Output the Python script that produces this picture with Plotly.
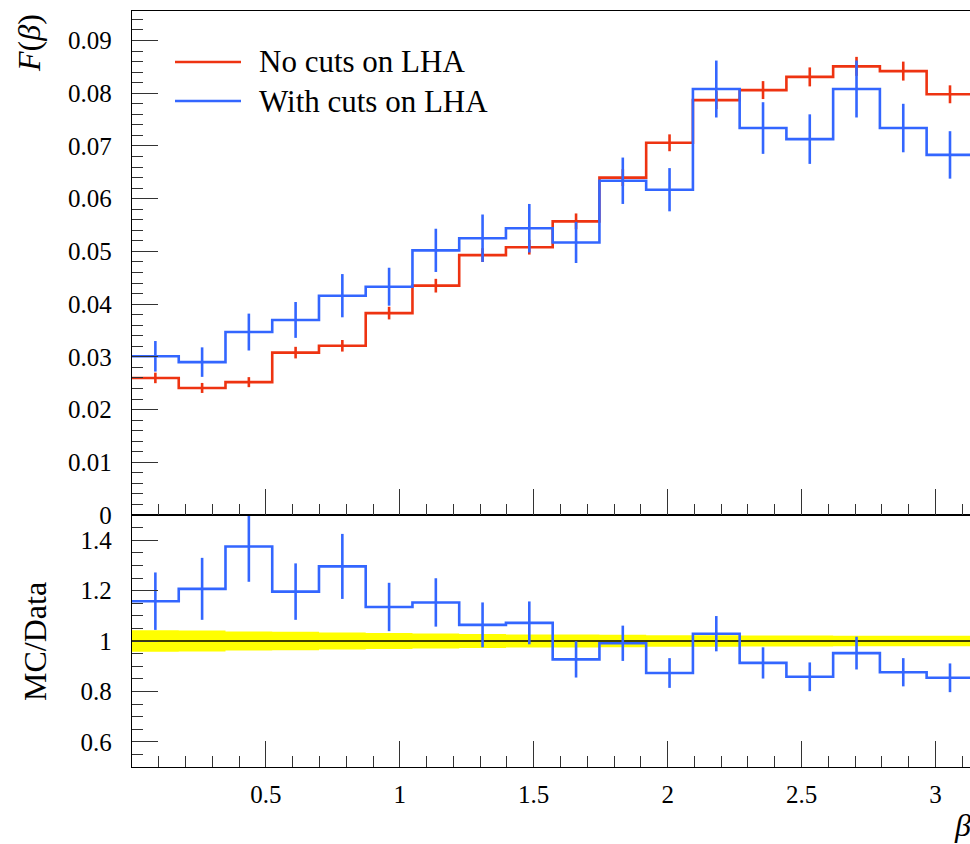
import numpy as np
import plotly.graph_objects as go

# ---------------- data ----------------
n_bins = 18
beta_max = np.pi
bin_edges = np.linspace(0.0, beta_max, n_bins + 1)
bin_centres = 0.5 * (bin_edges[:-1] + bin_edges[1:])

no_cuts = [0.0260, 0.0241, 0.0252, 0.0308, 0.0321, 0.0383, 0.0435, 0.0493, 0.0508,
           0.0557, 0.0640, 0.0706, 0.0787, 0.0806, 0.0831, 0.0851, 0.0842, 0.0798]
no_cuts_err = [0.0010, 0.00095, 0.00095, 0.0011, 0.0011, 0.0012, 0.0013, 0.0013, 0.0014,
               0.0015, 0.0016, 0.0016, 0.0017, 0.0017, 0.0018, 0.0018, 0.0018, 0.0017]
with_cuts = [0.0301, 0.0290, 0.0347, 0.0370, 0.0416, 0.0433, 0.0502, 0.0525, 0.0544,
             0.0517, 0.0634, 0.0617, 0.0808, 0.0734, 0.0713, 0.0808, 0.0734, 0.0683]
with_cuts_err = [0.0029, 0.0028, 0.0035, 0.0034, 0.0041, 0.0036, 0.0041, 0.0045, 0.0046,
                 0.0039, 0.0044, 0.0041, 0.0054, 0.0049, 0.0047, 0.0054, 0.0046, 0.0045]
ratio = [1.158, 1.207, 1.375, 1.196, 1.296, 1.135, 1.153, 1.064, 1.072,
         0.927, 0.991, 0.873, 1.029, 0.913, 0.858, 0.952, 0.876, 0.854]
ratio_err = [0.114, 0.123, 0.140, 0.112, 0.129, 0.096, 0.096, 0.089, 0.085,
             0.072, 0.070, 0.059, 0.070, 0.062, 0.057, 0.065, 0.056, 0.057]
band_half = [0.043, 0.042, 0.038, 0.037, 0.034, 0.032, 0.030, 0.028, 0.026,
             0.026, 0.025, 0.023, 0.023, 0.022, 0.022, 0.021, 0.021, 0.021]

series_names = ["No cuts on LHA", "With cuts on LHA"]

x_major = [0.5, 1, 1.5, 2, 2.5, 3]
x_major_text = ["0.5", "1", "1.5", "2", "2.5", "3"]
y_top_major = [0, 0.01, 0.02, 0.03, 0.04, 0.05, 0.06, 0.07, 0.08, 0.09]
y_top_text = ["0", "0.01", "0.02", "0.03", "0.04", "0.05", "0.06", "0.07", "0.08", "0.09"]
y_bot_major = [0.6, 0.8, 1.0, 1.2, 1.4]
y_bot_text = ["0.6", "0.8", "1", "1.2", "1.4"]

# ---------------- styling ----------------
RED = "#EE3311"
BLUE = "#3366FF"
YELLOW = "#FFFF00"
FONT = "Liberation Serif"
W, H = 970, 844
ML, MR, MT, MB = 132, 0, 11, 77
PW, PH = W - ML - MR, H - MT - MB
X_MAX = 3.129
LW = 2.6


def steps(vals):
    return list(bin_edges), list(vals) + [vals[-1]]


def px_x(px):
    return (px - ML) / PW


def px_y(py):
    return (H - MB - py) / PH


minor_x = [round(v, 2) for v in np.arange(0.1, 3.15, 0.1) if abs(v * 2 - round(v * 2)) > 1e-6]
minor_y_top = [round(v, 4) for v in np.arange(0.002, 0.0955, 0.002) if abs(v * 100 - round(v * 100)) > 1e-6]
minor_y_bot = [round(v, 3) for v in np.arange(0.55, 1.5, 0.05) if abs(v * 5 - round(v * 5)) > 1e-6]

fig = go.Figure()

# ----- top panel -----
for vals, errs, col, name in [(no_cuts, no_cuts_err, RED, series_names[0]),
                              (with_cuts, with_cuts_err, BLUE, series_names[1])]:
    sx, sy = steps(vals)
    fig.add_trace(go.Scatter(x=sx, y=sy, mode="lines", line=dict(color=col, width=LW, shape="hv"),
                             xaxis="x2", yaxis="y2", name=name, showlegend=False, hoverinfo="skip"))
    fig.add_trace(go.Scatter(x=bin_centres, y=vals, mode="markers", marker=dict(size=1, color=col, opacity=0),
                             error_y=dict(type="data", array=errs, color=col, thickness=LW, width=0),
                             xaxis="x2", yaxis="y2", showlegend=False, hoverinfo="skip"))

# ----- ratio panel -----
lo = [1 - b for b in band_half]
hi = [1 + b for b in band_half]
sx, sy = steps(lo)
fig.add_trace(go.Scatter(x=sx, y=sy, mode="lines", line=dict(width=0, shape="hv", color=YELLOW),
                         xaxis="x", yaxis="y", showlegend=False, hoverinfo="skip"))
sx, sy = steps(hi)
fig.add_trace(go.Scatter(x=sx, y=sy, mode="lines", line=dict(width=0, shape="hv", color=YELLOW),
                         fill="tonexty", fillcolor=YELLOW,
                         xaxis="x", yaxis="y", showlegend=False, hoverinfo="skip"))
sx, sy = steps([1.0] * n_bins)
fig.add_trace(go.Scatter(x=sx, y=sy, mode="lines", line=dict(width=1.3, color="black"),
                         xaxis="x", yaxis="y", showlegend=False, hoverinfo="skip"))
sx, sy = steps(ratio)
fig.add_trace(go.Scatter(x=sx, y=sy, mode="lines", line=dict(color=BLUE, width=LW, shape="hv"),
                         xaxis="x", yaxis="y", showlegend=False, hoverinfo="skip"))
fig.add_trace(go.Scatter(x=bin_centres, y=ratio, mode="markers", marker=dict(size=1, color=BLUE, opacity=0),
                         error_y=dict(type="data", array=ratio_err, color=BLUE, thickness=LW, width=0),
                         xaxis="x", yaxis="y", showlegend=False, hoverinfo="skip", cliponaxis=True))

tickfont = dict(family=FONT, size=25, color="black")
common_axis = dict(showline=True, linecolor="black", linewidth=1.3, ticks="inside",
                   tickcolor="#333", tickwidth=1.3, ticklen=26, showgrid=False, zeroline=False,
                   tickfont=tickfont, tickmode="array")

fig.update_layout(
    width=W, height=H,
    margin=dict(l=ML, r=MR, t=MT, b=MB, pad=0),
    paper_bgcolor="white", plot_bgcolor="white",
    font=dict(family=FONT, color="black"),
    showlegend=False,
    xaxis=dict(domain=[0, 1], anchor="y", range=[0, X_MAX], mirror=True,
               tickvals=x_major, ticktext=x_major_text, ticklabelstandoff=5,
               minor=dict(tickmode="array", tickvals=minor_x, ticks="inside", ticklen=11,
                          tickcolor="#333", tickwidth=1.3),
               **common_axis),
    yaxis=dict(domain=[0, 1 / 3], anchor="x", range=[0.5, 1.5],
               tickvals=y_bot_major, ticktext=y_bot_text, ticklabelstandoff=14,
               minor=dict(tickmode="array", tickvals=minor_y_bot, ticks="inside", ticklen=11,
                          tickcolor="#333", tickwidth=1.3),
               **common_axis),
    xaxis2=dict(domain=[0, 1], anchor="y2", range=[0, X_MAX], matches="x", mirror=True,
                tickvals=x_major, showticklabels=False,
                minor=dict(tickmode="array", tickvals=minor_x, ticks="inside", ticklen=11,
                           tickcolor="#333", tickwidth=1.3),
                **common_axis),
    yaxis2=dict(domain=[1 / 3, 1], anchor="x2", range=[0, 0.0956],
                tickvals=y_top_major, ticktext=y_top_text, ticklabelstandoff=14,
                minor=dict(tickmode="array", tickvals=minor_y_top, ticks="inside", ticklen=11,
                           tickcolor="#333", tickwidth=1.3),
                **common_axis),
)

# ----- legend (drawn manually for long line samples) -----
for name, col, py in [(series_names[0], RED, 62), (series_names[1], BLUE, 101)]:
    fig.add_shape(type="line", xref="paper", yref="paper", x0=px_x(175), x1=px_x(241),
                  y0=px_y(py), y1=px_y(py), line=dict(color=col, width=LW))
    fig.add_annotation(xref="paper", yref="paper", x=px_x(257), y=px_y(py), text=name,
                       showarrow=False, xanchor="left", yanchor="middle",
                       font=dict(family=FONT, size=31, color="black"))

# ----- axis titles -----
fig.add_annotation(xref="paper", yref="paper", x=px_x(29), y=px_y(12),
                   text="<i>F</i>(<i>β</i>)", textangle=-90, showarrow=False,
                   xanchor="center", yanchor="top", font=dict(family=FONT, size=32, color="black"))
fig.add_annotation(xref="paper", yref="paper", x=px_x(35), y=px_y(642),
                   text="MC/Data", textangle=-90, showarrow=False,
                   xanchor="center", yanchor="middle", font=dict(family=FONT, size=32, color="black"))
fig.add_annotation(xref="paper", yref="paper", x=px_x(973), y=px_y(845),
                   text="<i>β</i>", showarrow=False,
                   xanchor="right", yanchor="bottom", font=dict(family=FONT, size=32, color="black"))

fig.write_html("out.html")
